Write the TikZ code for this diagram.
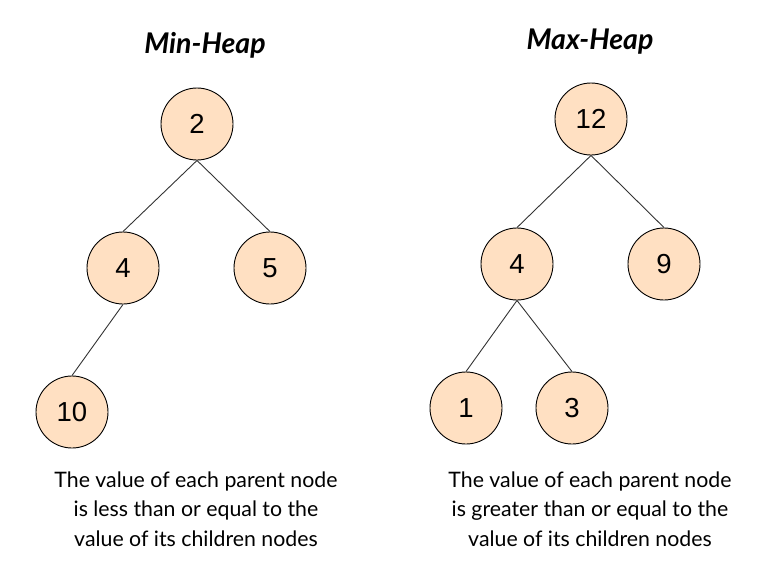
\documentclass[tikz,border=0pt]{standalone}
\usepackage{fontspec}
\setmainfont{Lato}
\newfontfamily\numfont{Liberation Sans}
\definecolor{heapfill}{HTML}{FFE0C2}
\definecolor{edgecol}{HTML}{333333}
\tikzset{
  heapnode/.style={circle, draw=black, line width=0.9pt, fill=heapfill, minimum size=72pt, inner sep=0pt, font=\numfont\fontsize{27.5}{30}\selectfont},
  heapedge/.style={draw=edgecol, line width=0.9pt},
  heaptitle/.style={font=\fontsize{28.5}{32}\selectfont\bfseries\itshape},
  heapnote/.style={align=center, font=\fontsize{21.3}{29.5}\selectfont, inner sep=0pt}
}
\begin{document}
\begin{tikzpicture}[x=1pt,y=-1pt]
\useasboundingbox (0,0) rectangle (771,563);
% Min-Heap
\node[heaptitle] (tmin) at (205,45) {Min-Heap};
\node[heapnode] (m2) at (197,124) {2};
\node[heapnode] (m4) at (123,268) {4};
\node[heapnode] (m5) at (270,268) {5};
\node[heapnode] (m10) at (72,412) {10};
\draw[heapedge] (m2.south) -- (m4.north);
\draw[heapedge] (m2.south) -- (m5.north);
\draw[heapedge] (m4.south) -- (m10.north);
\node[heapnote] (nmin) at (196,509) {The value of each parent node\\is less than or equal to the\\value of its children nodes};
% Max-Heap
\node[heaptitle] (tmax) at (590,42) {Max-Heap};
\node[heapnode] (x12) at (591,119) {12};
\node[heapnode] (x4) at (517,264) {4};
\node[heapnode] (x9) at (664,264) {9};
\node[heapnode] (x1) at (466,408) {1};
\node[heapnode] (x3) at (572,408) {3};
\draw[heapedge] (x12.south) -- (x4.north);
\draw[heapedge] (x12.south) -- (x9.north);
\draw[heapedge] (x4.south) -- (x1.north);
\draw[heapedge] (x4.south) -- (x3.north);
\node[heapnote] (nmax) at (590,509) {The value of each parent node\\is greater than or equal to the\\value of its children nodes};
\end{tikzpicture}
\end{document}
